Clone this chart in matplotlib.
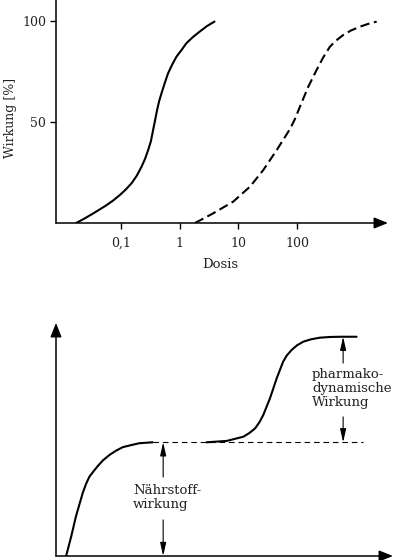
import matplotlib
matplotlib.use("Agg")
import matplotlib.pyplot as plt
import numpy as np

# ---------------- data ----------------
# top panel: dose-response curves (log10 dose, effect %)
solid_logdose = [-1.763, -1.622, -1.469, -1.358, -1.242, -1.131, -1.017, -0.918,
                 -0.819, -0.731, -0.649, -0.588, -0.537, -0.490, -0.453, -0.418,
                 -0.385, -0.350, -0.310, -0.254, -0.198, -0.126, -0.056, 0.031,
                 0.114, 0.227, 0.339, 0.465, 0.593]
solid_effect = [0, 2.2, 4.8, 6.8, 8.9, 11.2, 13.9, 16.6, 19.7, 23.4, 27.9, 31.9,
                36.1, 40.5, 46.0, 51.0, 55.9, 60.3, 64.2, 69.3, 74.1, 78.5, 82.3,
                85.6, 89.0, 92.1, 94.7, 97.5, 99.7]
dashed_logdose = [0.261, 0.572, 0.913, 1.198, 1.424, 1.653, 1.879, 1.964, 2.049,
                  2.191, 2.361, 2.450, 2.560, 2.663, 2.787, 2.918, 3.072, 3.214,
                  3.356]
dashed_effect = [0, 4.8, 10.6, 18.0, 26.2, 36.1, 46.5, 51.5, 57.6, 67.5, 77.4,
                 82.2, 87.3, 90.3, 93.1, 95.3, 97.2, 98.6, 99.7]
xtick_values = [0.1, 1, 10, 100]
xtick_labels = ["0,1", "1", "10", "100"]
ytick_values = [50, 100]
ytick_labels = ["50", "100"]

# bottom panel: schematic two-stage curve (arbitrary units)
stage1_x = [0.30, 0.45, 0.59, 0.79, 0.89, 0.99, 1.11, 1.24, 1.39, 1.58, 1.77,
            1.98, 2.23, 2.47, 2.87]
stage1_y = [0, 8.3, 16.9, 26.9, 30.9, 34.0, 36.3, 38.6, 41.0, 43.3, 45.1, 46.7,
            47.6, 48.4, 48.8]
plateau_x = [2.87, 9.11]
plateau_y = [48.8, 48.8]
stage2_x = [4.47, 5.07, 5.56, 5.74, 5.91, 6.04, 6.15, 6.35, 6.55, 6.74, 6.85,
            6.99, 7.15, 7.34, 7.57, 7.83, 8.13, 8.43, 8.92]
stage2_y = [48.8, 49.4, 51.2, 52.8, 54.8, 57.5, 60.5, 67.7, 76.3, 83.4, 86.1,
            88.4, 90.4, 92.0, 93.0, 93.7, 94.0, 94.1, 94.1]
nutrient_label = "Nährstoff-\nwirkung"
pharma_label = "pharmako-\ndynamische\nWirkung"

# ---------------- figure ----------------
FONT = "DejaVu Serif"
plt.rcParams["font.family"] = FONT
W, H = 395, 560
fig = plt.figure(figsize=(W / 100, H / 100), dpi=100)
txtc = "#222222"
curve_kw = dict(color="k", lw=1.5, solid_joinstyle="round",
                solid_capstyle="round", dash_joinstyle="round")

# ---- top panel ----
ax = fig.add_axes([56 / W, 1 - 223 / H, (388 - 56) / W, 223 / H])
ax.set_xscale("log")
ax.set_xlim(10 ** -2.107, 10 ** 3.549)
ax.set_ylim(0, 110.4)
ax.plot(10 ** np.array(solid_logdose), solid_effect, **curve_kw)
ax.plot(10 ** np.array(dashed_logdose), dashed_effect, dashes=(4.5, 2.2),
        **curve_kw)
for s in ["top", "right", "bottom"]:
    ax.spines[s].set_visible(False)
ax.spines["left"].set_linewidth(1.1)
ax.annotate("", xy=(1, 0), xytext=(0, 0), xycoords="axes fraction",
            arrowprops=dict(arrowstyle="-|>,head_length=0.7,head_width=0.28",
                            lw=1.1, color="k", shrinkA=0, shrinkB=0,
                            mutation_scale=12))
ax.set_xticks(xtick_values)
ax.set_xticklabels(xtick_labels)
ax.xaxis.set_minor_locator(matplotlib.ticker.NullLocator())
ax.set_yticks(ytick_values)
ax.set_yticklabels(ytick_labels)
ax.tick_params(axis="both", direction="out", length=4, width=1.0,
               labelsize=9, colors="k", labelcolor=txtc)
ax.tick_params(axis="x", pad=6)
ax.tick_params(axis="y", pad=3)
fig.text(220 / W, 1 - 265 / H, "Dosis", ha="center", va="center",
         fontsize=9.5, color=txtc)
fig.text(11 / W, 1 - 118 / H, "Wirkung [%]", ha="center", va="center",
         rotation=90, fontsize=9, color=txtc)

# ---- bottom panel ----
bx = fig.add_axes([56 / W, 1 - 556 / H, (393 - 56) / W, (556 - 323) / H])
bx.set_xlim(0, 10)
bx.set_ylim(0, 100)
for s in bx.spines.values():
    s.set_visible(False)
bx.set_xticks([])
bx.set_yticks([])
axis_arrow = dict(arrowstyle="-|>,head_length=0.7,head_width=0.28", lw=1.1,
                  color="k", shrinkA=0, shrinkB=0, mutation_scale=12)
bx.annotate("", xy=(1, 0), xytext=(0, 0), xycoords="axes fraction",
            arrowprops=axis_arrow)
bx.annotate("", xy=(0, 1), xytext=(0, 0), xycoords="axes fraction",
            arrowprops=axis_arrow)
bx.plot(stage1_x, stage1_y, **curve_kw)
bx.plot(stage2_x, stage2_y, **curve_kw)
bx.plot(plateau_x, plateau_y, color="k", lw=0.8, dashes=(5, 3.5))

small_arrow = dict(arrowstyle="-|>,head_length=0.8,head_width=0.18", lw=0.8,
                   color="k", shrinkA=0, shrinkB=0, mutation_scale=10)
level1 = plateau_y[0]
level2 = stage2_y[-1]
# Nährstoffwirkung double arrow
nx = 3.18
bx.annotate("", xy=(nx, level1), xytext=(nx, 33.9), arrowprops=small_arrow)
bx.annotate("", xy=(nx, 0), xytext=(nx, 15.5), arrowprops=small_arrow,
            annotation_clip=False)
bx.text(2.28, 25.1, nutrient_label, ha="left", va="center", fontsize=9.5,
        color=txtc, linespacing=1.1)
# pharmakodynamische Wirkung double arrow
px = 8.52
bx.annotate("", xy=(px, level2), xytext=(px, 82.8), arrowprops=small_arrow)
bx.annotate("", xy=(px, level1), xytext=(px, 59.7), arrowprops=small_arrow)
bx.text(7.60, 72.1, pharma_label, ha="left", va="center", fontsize=9.5,
        color=txtc, linespacing=1.1)

fig.savefig("out.png", dpi=100)
